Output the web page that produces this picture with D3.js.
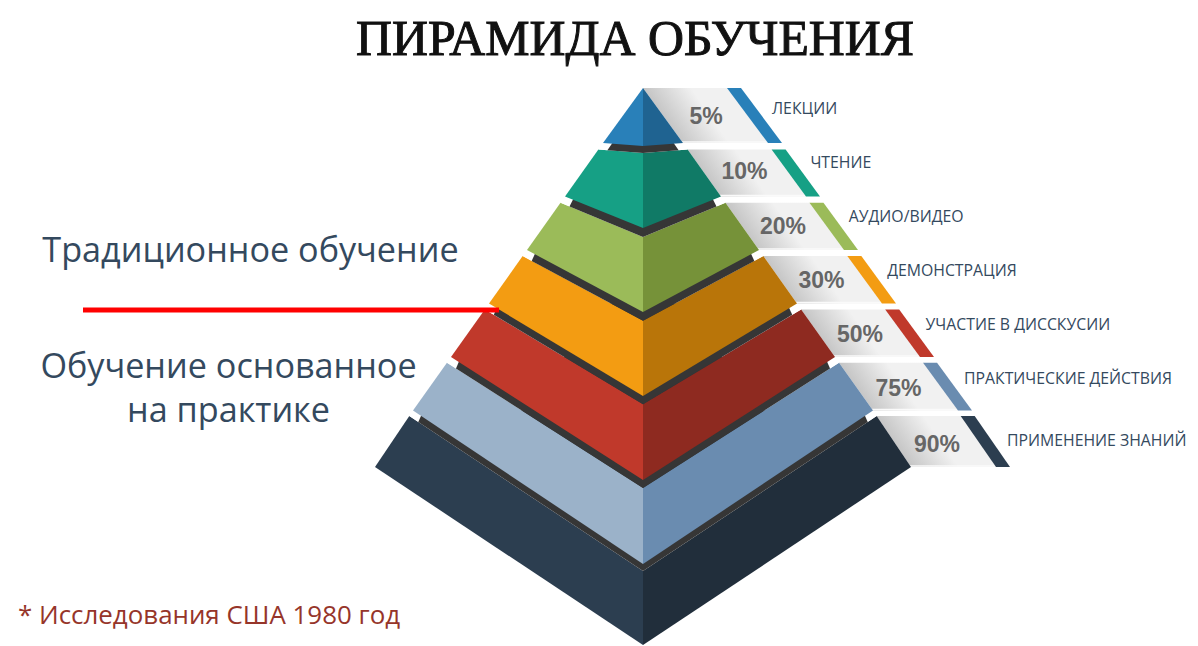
<!DOCTYPE html>
<html>
<head>
<meta charset="utf-8">
<script src="https://d3js.org/d3.v7.min.js"></script>
<style>
  html,body{margin:0;padding:0;background:#fff;}
  svg{display:block;}
</style>
</head>
<body>
<div id="canvas"></div>
<script>
// data
var levels = ['ЛЕКЦИИ','ЧТЕНИЕ','АУДИО/ВИДЕО','ДЕМОНСТРАЦИЯ','УЧАСТИЕ В ДИССКУСИИ','ПРАКТИЧЕСКИЕ ДЕЙСТВИЯ','ПРИМЕНЕНИЕ ЗНАНИЙ'];
var percents = [5,10,20,30,50,75,90];
var leftColors = ['#2980b9','#16a085','#9bbb59','#f39c12','#c0392b','#9bb2c9','#2c3e50'];
var rightColors = ['#1f6391','#107a66','#769239','#b97509','#8e2a20','#6a8cb0','#212e3b'];
var stripeColors = ['#2980b9','#16a085','#9bbb59','#f39c12','#c0392b','#6a8cb0','#2c3e50'];
var titleText = 'ПИРАМИДА ОБУЧЕНИЯ';
var sideLabels = ['Традиционное обучение','Обучение основанное','на практике'];
var footnote = '* Исследования США 1980 год';

var width = 1198, height = 646, cx = 643;

var svg = d3.select('#canvas').append('svg')
  .attr('width',width)
  .attr('height',height);

// scales, level index -> pixels
var rowTop = d3.scaleLinear().domain([0,1,6]).range([88,149.5,416]);
var rowBottom = d3.scaleLinear().domain([0,5,6]).range([143,410.5,467]);
var centerBottom = d3.scaleLinear().domain([0,1,5,6]).range([146,228,564,645]);
var centerTop = d3.scaleLinear().domain([1,2,5,6]).range([153,237,488,571]);
var halfWidth = d3.scaleLinear().domain([88,143,410.5,467]).range([0,40,230,268]);
var labelX = d3.scaleLinear().domain([0,5,6]).range([772,964,1007]);
var labelY = d3.scaleLinear().domain([0,5,6]).range([108,378,440]);
var pctX = d3.scaleLinear().domain([0,6]).range([706,937]);
var pctY = d3.scaleLinear().domain([0,1,5,6]).range([116,171,388,444]);

var poly = function(pts){ return d3.line()(pts) + 'Z'; };

// each ribbon gets its own gradient, running away from the pyramid edge
var defs = svg.append('defs');
levels.forEach(function(d,i){
  var t = rowTop(i), b = rowBottom(i);
  var xm = cx + (halfWidth(t)+halfWidth(b))/2, ym = (t+b)/2;
  var g = defs.append('linearGradient').attr('id','ribbon'+i)
    .attr('gradientUnits','userSpaceOnUse')
    .attr('x1',xm).attr('y1',ym)
    .attr('x2',xm+32).attr('y2',ym-22);
  g.append('stop').attr('offset','0%').attr('stop-color','#c6c6c6');
  g.append('stop').attr('offset','100%').attr('stop-color','#f1f1f1');
});

// ribbons on the right
var ribbons = svg.append('g').selectAll('g')
  .data(levels).enter().append('g');

ribbons.append('path')
  .attr('fill',function(d,i){ return 'url(#ribbon'+i+')'; })
  .attr('d',function(d,i){
    var t = rowTop(i), b = rowBottom(i);
    var xt = cx + halfWidth(t), xb = cx + halfWidth(b);
    return poly([[xt,t],[xt+85,t],[xb+85,b],[xb,b]]);
  });

// thin highlight along the bottom of the ribbon
ribbons.append('line')
  .attr('x1',function(d,i){ return cx + halfWidth(rowBottom(i)) - 1; })
  .attr('x2',function(d,i){ return cx + halfWidth(rowBottom(i)) + 85; })
  .attr('y1',function(d,i){ return rowBottom(i) - 1; })
  .attr('y2',function(d,i){ return rowBottom(i) - 1; })
  .style('stroke','#fafafa')
  .style('stroke-width',1.5);

ribbons.append('path')
  .attr('fill',function(d,i){ return stripeColors[i]; })
  .attr('d',function(d,i){
    var t = rowTop(i), b = rowBottom(i);
    var xt = cx + halfWidth(t), xb = cx + halfWidth(b);
    return poly([[xt+84,t],[xt+98,t],[xb+99,b],[xb+85,b]]);
  });

ribbons.append('text')
  .attr('x',function(d,i){ return pctX(i); })
  .attr('y',function(d,i){ return pctY(i); })
  .attr('dy','0.36em')
  .attr('text-anchor','middle')
  .style('font-family','"Liberation Sans",sans-serif')
  .style('font-weight','bold')
  .style('font-size','23px')
  .style('fill','#666')
  .text(function(d,i){ return percents[i] + '%'; });

ribbons.append('text')
  .attr('x',function(d,i){ return labelX(i); })
  .attr('y',function(d,i){ return labelY(i); })
  .attr('dy','0.36em')
  .style('font-family','"Open Sans",sans-serif')
  .style('font-size','15.8px')
  .style('fill','#34495e')
  .text(function(d){ return d; });

// pyramid, bottom tier first so each upper tier sits over the dark band
var order = d3.range(levels.length).reverse();
var tiers = svg.append('g');

order.forEach(function(i){
  var t = rowTop(i), b = rowBottom(i), cb = centerBottom(i);
  var wt = halfWidth(t), wb = halfWidth(b);
  var ct = i==0 ? t : centerTop(i);

  tiers.append('path').attr('fill',leftColors[i])
    .attr('d',poly([[cx,ct],[cx-wt,t],[cx-wb,b],[cx,cb]]));
  tiers.append('path').attr('fill',rightColors[i])
    .attr('d',poly([[cx,ct],[cx+wt,t],[cx+wb,b],[cx,cb]]));

  // dark band under the tier above, with a small white notch at each corner
  if(i>0){
    var slope = (ct-t)/wt;
    var inset = 9;
    var x0 = wt-inset;
    var y0 = t + slope*inset;
    var ub = rowBottom(i-1);
    tiers.append('path').attr('fill','#fff')
      .attr('d',poly([[cx-wt,t],[cx-x0,y0],[cx-x0+5,ub],[cx-halfWidth(ub),ub]]));
    tiers.append('path').attr('fill','#fff')
      .attr('d',poly([[cx+wt,t],[cx+x0,y0],[cx+x0-5,ub],[cx+halfWidth(ub),ub]]));
    tiers.append('path').attr('fill','#363636')
      .attr('d',poly([[cx-x0,y0],[cx,ct],[cx+x0,y0],[cx+x0-5,ub],[cx,ub],[cx-x0+5,ub]]));
  }
});

// title and side texts
svg.append('text')
  .attr('x',356).attr('y',55)
  .attr('textLength',558)
  .attr('lengthAdjust','spacingAndGlyphs')
  .style('font-family','"Liberation Serif",serif')
  .style('font-size','50px')
  .style('fill','#111')
  .style('stroke','#111')
  .style('stroke-width',1)
  .text(titleText);

svg.append('line')
  .attr('x1',83).attr('x2',499)
  .attr('y1',310).attr('y2',310)
  .style('stroke','#f00')
  .style('stroke-width',5);

var sideX = [250.5,228.5,228.5], sideY = [262,378,422];
svg.append('g').selectAll('text')
  .data(sideLabels).enter().append('text')
  .attr('x',function(d,i){ return sideX[i]; })
  .attr('y',function(d,i){ return sideY[i]; })
  .attr('text-anchor','middle')
  .style('font-family','"Open Sans",sans-serif')
  .style('font-size','34.2px')
  .style('fill','#34495e')
  .text(function(d){ return d; });

svg.append('text')
  .attr('x',18).attr('y',624)
  .style('font-family','"Open Sans",sans-serif')
  .style('font-size','25.9px')
  .style('fill','#96352a')
  .text(footnote);
</script>
</body>
</html>
